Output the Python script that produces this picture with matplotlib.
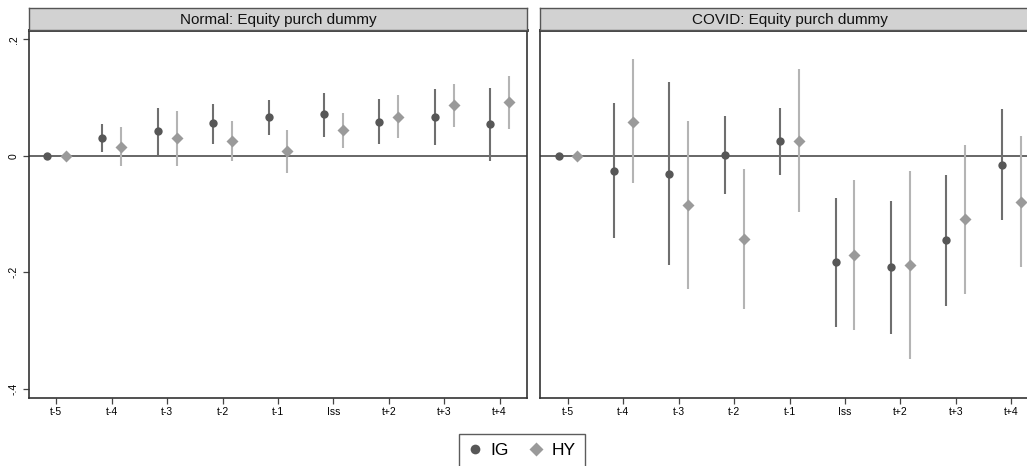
import matplotlib
matplotlib.use("Agg")
import matplotlib.pyplot as plt
from matplotlib.lines import Line2D
import numpy as np

plt.rcParams['font.family'] = ['Liberation Sans', 'DejaVu Sans']

periods = ['t-5', 't-4', 't-3', 't-2', 't-1', 'Iss', 't+2', 't+3', 't+4']

# Normal period: point estimates and confidence bounds
normal_ig = [0, 0.031, 0.042, 0.056, 0.066, 0.071, 0.058, 0.066, 0.054]
normal_ig_lo = [0, 0.006, 0.001, 0.020, 0.036, 0.033, 0.020, 0.018, -0.009]
normal_ig_hi = [0, 0.054, 0.082, 0.089, 0.096, 0.108, 0.097, 0.115, 0.117]
normal_hy = [0, 0.015, 0.030, 0.025, 0.008, 0.044, 0.067, 0.087, 0.092]
normal_hy_lo = [0, -0.017, -0.017, -0.009, -0.029, 0.014, 0.030, 0.049, 0.046]
normal_hy_hi = [0, 0.049, 0.076, 0.059, 0.044, 0.074, 0.104, 0.124, 0.137]

# COVID period
covid_ig = [0, -0.026, -0.031, 0.002, 0.025, -0.183, -0.192, -0.145, -0.016]
covid_ig_lo = [0, -0.142, -0.188, -0.066, -0.033, -0.295, -0.306, -0.258, -0.110]
covid_ig_hi = [0, 0.091, 0.126, 0.069, 0.082, -0.072, -0.078, -0.033, 0.080]
covid_hy = [0, 0.058, -0.084, -0.143, 0.026, -0.171, -0.188, -0.109, -0.080]
covid_hy_lo = [0, -0.047, -0.229, -0.263, -0.096, -0.300, -0.350, -0.237, -0.192]
covid_hy_hi = [0, 0.166, 0.060, -0.023, 0.149, -0.041, -0.026, 0.019, 0.034]

panels = [
    ("Normal: Equity purch dummy",
     (normal_ig, normal_ig_lo, normal_ig_hi),
     (normal_hy, normal_hy_lo, normal_hy_hi)),
    ("COVID: Equity purch dummy",
     (covid_ig, covid_ig_lo, covid_ig_hi),
     (covid_hy, covid_hy_lo, covid_hy_hi)),
]

W, H = 1027, 466
fig = plt.figure(figsize=(W / 100, H / 100), dpi=100)

IG_DOT = '#575757'
IG_LINE = '#6f6f6f'
HY_DOT = '#9a9a9a'
HY_LINE = '#b4b4b4'
FRAME = '#333333'

x = np.arange(1, len(periods) + 1)
off = 0.17

plot_top, plot_bot = 30, 397.7
strip_top = 8
panel_w = 498.6
lefts = [28.7, 540.3]

for left, (title, ig, hy) in zip(lefts, panels):
    ax = fig.add_axes([left / W, 1 - plot_bot / H, panel_w / W, (plot_bot - plot_top) / H])
    sax = fig.add_axes([left / W, 1 - plot_top / H, panel_w / W, (plot_top - strip_top) / H])

    ax.axhline(0, color='#666666', lw=1.4, zorder=1)

    ig_v, ig_lo, ig_hi = ig
    hy_v, hy_lo, hy_hi = hy
    ax.vlines(x - off, ig_lo, ig_hi, color=IG_LINE, lw=1.5, zorder=2)
    ax.vlines(x + off, hy_lo, hy_hi, color=HY_LINE, lw=1.5, zorder=2)
    ax.plot(x - off, ig_v, 'o', color=IG_DOT, ms=6.0, mec='none', zorder=3)
    ax.plot(x + off, hy_v, 'D', color=HY_DOT, ms=6.0, mec='none', zorder=3)

    ax.set_xlim(0.5, 9.5)
    ax.set_ylim(-0.4158, 0.216)
    ax.set_xticks(x)
    ax.set_xticklabels(periods, fontsize=7.5)
    ax.set_yticks([-0.4, -0.2, 0, 0.2])
    if left == lefts[0]:
        ax.set_yticklabels(['-.4', '-.2', '0', '.2'], rotation=90, va='center', fontsize=7.5)
    else:
        ax.tick_params(axis='y', left=False, labelleft=False)
    ax.tick_params(axis='both', length=4, width=0.9, color='#444444', pad=3)
    for s in ax.spines.values():
        s.set_color(FRAME)
        s.set_linewidth(1.2)
    ax.spines['top'].set_linewidth(2.0)

    sax.set_facecolor('#d2d2d2')
    sax.set_xticks([])
    sax.set_yticks([])
    for s in sax.spines.values():
        s.set_color('#555555')
        s.set_linewidth(1.0)
    sax.text(0.5, 0.47, title, transform=sax.transAxes, ha='center', va='center',
             fontsize=11, color='#111111')

handles = [
    Line2D([], [], marker='o', ls='none', color=IG_DOT, ms=7, mec='none', label='IG'),
    Line2D([], [], marker='D', ls='none', color=HY_DOT, ms=7, mec='none', label='HY'),
]
leg = fig.legend(handles=handles, loc='upper center', bbox_to_anchor=(522 / W, 1 - 434 / H),
                 ncol=2, frameon=True, fancybox=False, fontsize=12.5, handlelength=0.8,
                 handletextpad=0.5, columnspacing=1.2, borderpad=0.5, borderaxespad=0)
leg.get_frame().set_edgecolor('#333333')
leg.get_frame().set_linewidth(1.0)

fig.savefig('out.png', dpi=100)
